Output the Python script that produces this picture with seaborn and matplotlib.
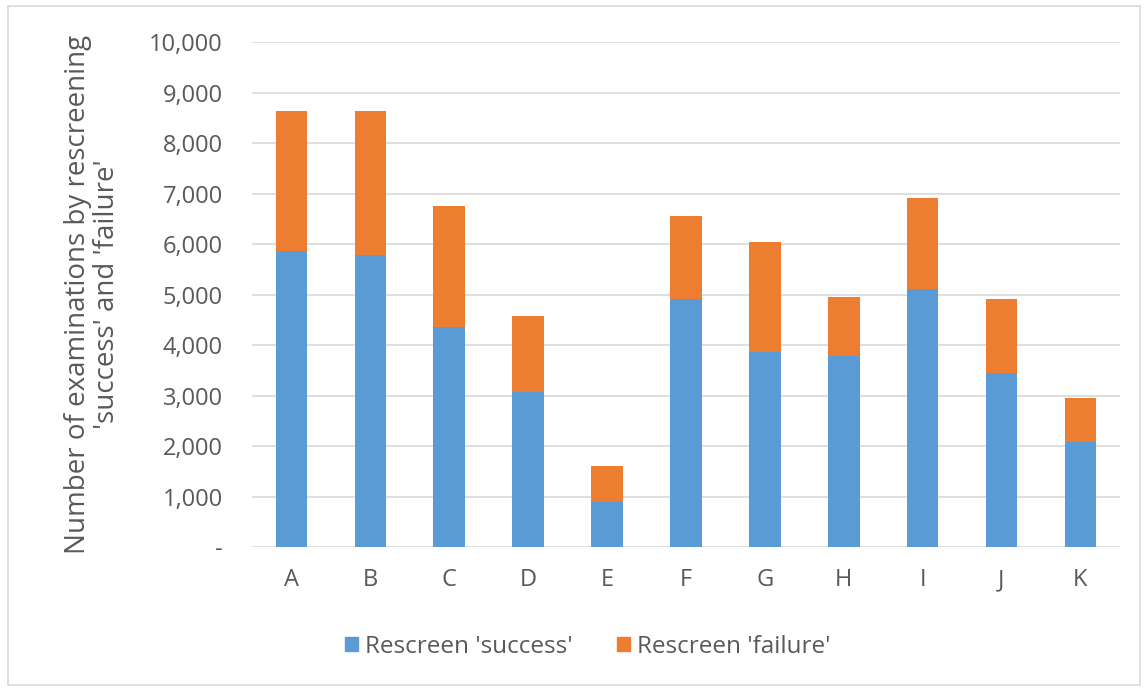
import matplotlib
matplotlib.use("Agg")
import matplotlib.pyplot as plt
import matplotlib.patches as mpatches
from matplotlib.ticker import FuncFormatter
import seaborn as sns
import pandas as pd

categories = ["A", "B", "C", "D", "E", "F", "G", "H", "I", "J", "K"]
success = [5870, 5790, 4350, 3070, 900, 4920, 3860, 3790, 5110, 3450, 2080]
failure = [2760, 2840, 2410, 1510, 700, 1630, 2190, 1170, 1810, 1470, 880]

BLUE = "#5B9BD5"
ORANGE = "#ED7D31"
TEXT = "#595959"
GRID = "#D9D9D9"

sns.set_theme(style="white")
plt.rcParams["font.family"] = ["Open Sans", "DejaVu Sans"]

df = pd.DataFrame({"category": categories, "success": success, "failure": failure})
df["total"] = df["success"] + df["failure"]

fig = plt.figure(figsize=(11.48, 6.91), dpi=100)
ax = fig.add_axes([0.2195, 0.208, 0.756, 0.7312])

# stacked columns: full height in orange, success portion in blue on top
sns.barplot(data=df, x="category", y="total", color=ORANGE, width=0.4,
            saturation=1, linewidth=0, ax=ax, zorder=3)
sns.barplot(data=df, x="category", y="success", color=BLUE, width=0.4,
            saturation=1, linewidth=0, ax=ax, zorder=4)

ax.set_ylim(0, 10000)
ax.set_xlim(-0.5, len(categories) - 0.5)
ax.set_yticks(range(0, 10001, 1000))
ax.yaxis.set_major_formatter(FuncFormatter(lambda v, p: "-" if v == 0 else f"{int(v):,}"))
ax.grid(axis="y", color=GRID, linewidth=1.2, zorder=0)
ax.grid(axis="x", visible=False)
for s in ax.spines.values():
    s.set_visible(False)
ax.tick_params(axis="both", length=0, labelsize=17, colors=TEXT)
ax.tick_params(axis="y", pad=21)
ax.tick_params(axis="x", pad=15)
ax.set_xlabel("")
ax.set_ylabel("Number of examinations by rescreening\n'success' and 'failure'",
              fontsize=20, color=TEXT, labelpad=20, linespacing=1.05)

handles = [mpatches.Patch(color=BLUE, label="Rescreen 'success'"),
           mpatches.Patch(color=ORANGE, label="Rescreen 'failure'")]
fig.legend(handles=handles, loc="center", bbox_to_anchor=(0.512, 0.064), ncol=2,
           frameon=False, fontsize=17.5, labelcolor=TEXT, handlelength=0.55,
           handleheight=0.55, handletextpad=0.3, columnspacing=1.8)

# light chart-area border
fig.patches.append(mpatches.Rectangle((0.007, 0.009), 0.986, 0.982, transform=fig.transFigure,
                                      fill=False, edgecolor="#D9D9D9", linewidth=1.2))

fig.savefig("out.png", dpi=100)
